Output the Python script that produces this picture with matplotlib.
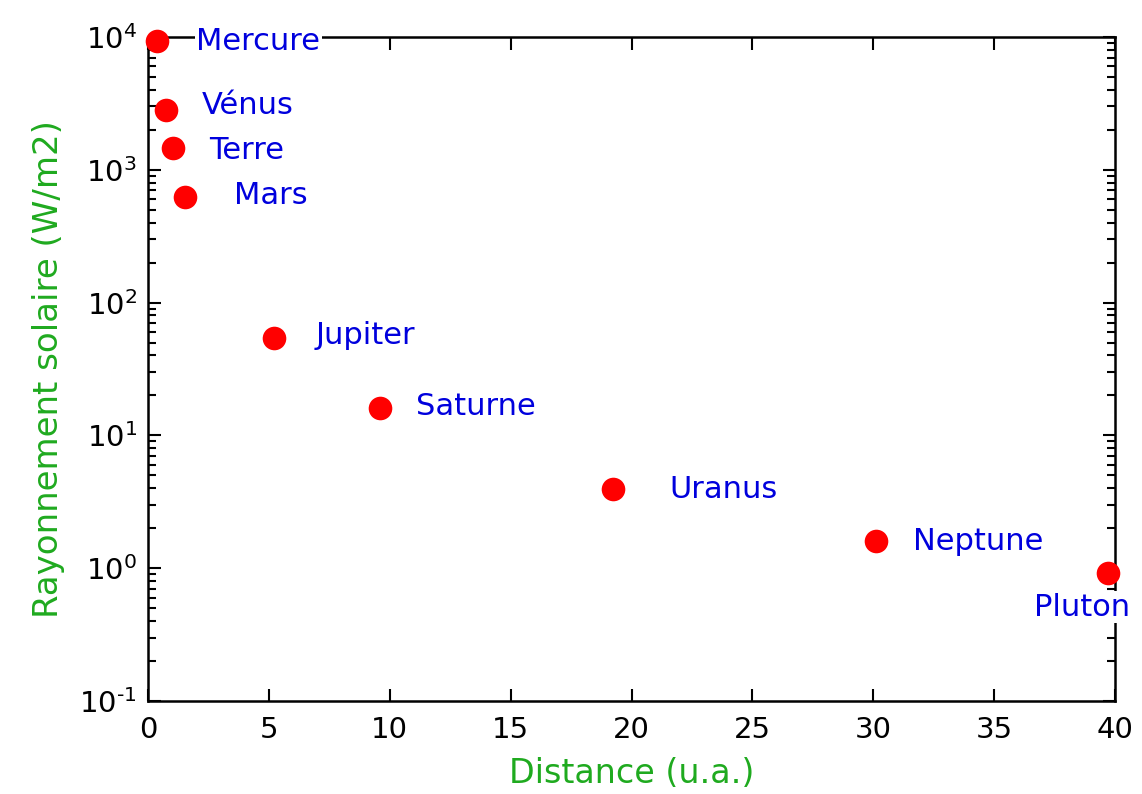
import matplotlib.pyplot as plt
from matplotlib.ticker import FuncFormatter
import numpy as np

plt.rcParams['font.family'] = ['DejaVu Sans']
plt.rcParams['mathtext.default'] = 'regular'
plt.rcParams['axes.unicode_minus'] = False

# planet data
planets = ["Mercure", "Vénus", "Terre", "Mars", "Jupiter",
           "Saturne", "Uranus", "Neptune", "Pluton"]
distance = [0.39, 0.75, 1.05, 1.55, 5.2, 9.6, 19.25, 30.1, 39.7]
flux = [9300, 2800, 1460, 620, 54, 16.2, 3.95, 1.6, 0.92]

# label offsets in pixels (dx, dy, ha)
offsets = [(39, 0, 'left'), (36, 5, 'left'), (36, -3, 'left'), (49, 2, 'left'),
           (42, 3, 'left'), (36, 1, 'left'), (56, -1, 'left'), (37, 0, 'left'),
           (-26, -34, 'center')]


def log_label(v, pos):
    e = int(round(np.log10(v)))
    # plain hyphen for the exponent, like the original
    return r'$10^{%s}$' % str(e).replace('-', '\u2010')


fig = plt.figure(figsize=(11.42, 7.94), dpi=100)
ax = fig.add_axes([0.1296, 0.1171, 0.8468, 0.8363])

ax.plot(distance, flux, 'o', color='red', markersize=17, markeredgewidth=0,
        clip_on=False, zorder=4)

for name, x, y, (dx, dy, ha) in zip(planets, distance, flux, offsets):
    ax.annotate(name, (x, y), xytext=(dx, dy), textcoords='offset pixels',
                ha=ha, va='center', color='#0000dd', fontsize=22,
                bbox=dict(facecolor='white', edgecolor='none', pad=1),
                annotation_clip=False, zorder=5)

ax.set_yscale('log')
ax.set_xlim(0, 40)
ax.set_ylim(0.1, 1e4)
ax.set_xticks(range(0, 41, 5))
ax.set_yticks([0.1, 1, 10, 100, 1000, 10000])
ax.yaxis.set_major_formatter(FuncFormatter(log_label))

ax.tick_params(which='both', direction='in', top=True, right=True,
               labelsize=21, width=1.5, pad=8)
ax.tick_params(axis='x', pad=11)
ax.tick_params(which='major', length=9)
ax.tick_params(which='minor', length=6)
ax.tick_params(axis='x', which='minor', bottom=False, top=False)
for s in ax.spines.values():
    s.set_linewidth(1.8)

ax.set_xlabel("Distance (u.a.)", color='#1faa1f', fontsize=24, labelpad=9)
ax.set_ylabel("Rayonnement solaire (W/m2)", color='#1faa1f', fontsize=24.5,
              labelpad=10)

fig.savefig("out.png", dpi=100)
